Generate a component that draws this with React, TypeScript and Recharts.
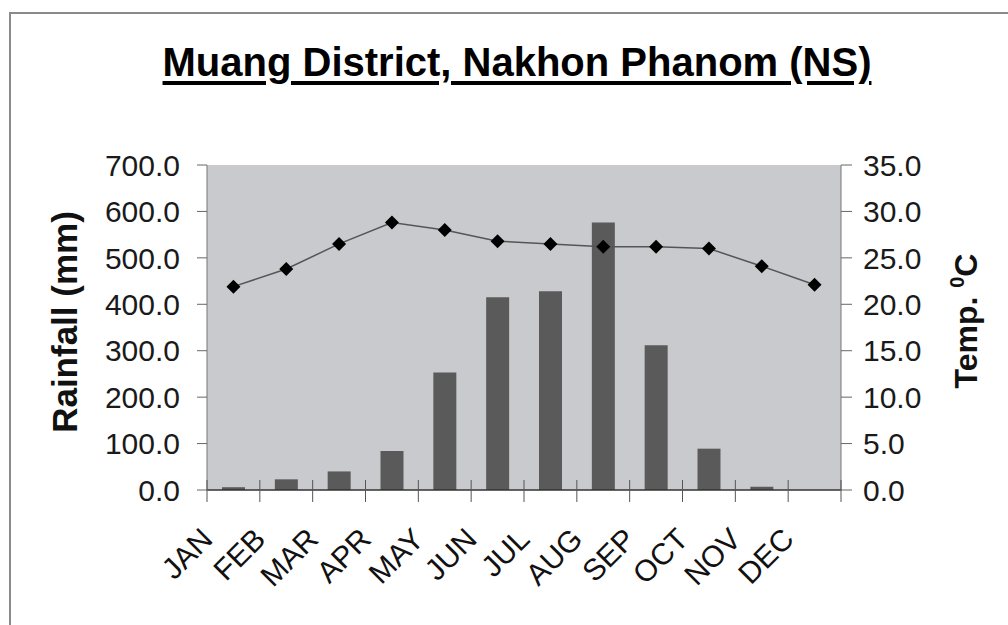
import React from 'react';
import { ComposedChart, Bar, Line, XAxis, YAxis, CartesianGrid } from 'recharts';

const months = ['JAN', 'FEB', 'MAR', 'APR', 'MAY', 'JUN', 'JUL', 'AUG', 'SEP', 'OCT', 'NOV', 'DEC'];
const rainfall = [6, 23, 40, 84, 253, 415, 428, 576, 312, 89, 7, 0];
const temperature = [21.9, 23.8, 26.5, 28.8, 28.0, 26.8, 26.5, 26.2, 26.2, 26.0, 24.1, 22.1];
const rainTicks = [0, 100, 200, 300, 400, 500, 600, 700];
const tempTicks = [0, 5, 10, 15, 20, 25, 30, 35];

const data = months.map((m, i) => ({ month: m, rain: rainfall[i], temp: temperature[i] }));

const FONT = '"Liberation Sans", Arial, Helvetica, sans-serif';
const tickStyle = { fill: '#1a1a1a', fontSize: 30, fontFamily: FONT };

// category label rotated like Excel, plus tick marks on the category boundaries
const MonthTick = ({ x, y, payload, width, visibleTicksCount, index }: any) => {
  const band = width && visibleTicksCount ? width / visibleTicksCount : 52.8;
  const left = x - band / 2;
  const right = x + band / 2;
  return (
    <g>
      <line x1={left} x2={left} y1={y - 10} y2={y + 12} stroke="#555" />
      {index === visibleTicksCount - 1 && <line x1={right} x2={right} y1={y - 10} y2={y + 12} stroke="#555" />}
      <g transform={`translate(${x - 19},${y + 51})`}>
        <text textAnchor="end" transform="rotate(-45)" fill="#111" fontSize={30} fontFamily={FONT}>
          {payload.value}
        </text>
      </g>
    </g>
  );
};

const Diamond = ({ cx, cy }: any) => {
  if (cx == null || cy == null) return null;
  const r = 7;
  return <polygon points={`${cx},${cy - r} ${cx + r},${cy} ${cx},${cy + r} ${cx - r},${cy}`} fill="#000" />;
};

export default function App() {
  return (
    <div style={{ position: 'absolute', left: 0, top: 0, width: 1008, height: 625, background: '#fff', overflow: 'hidden' }}>
      <div style={{ position: 'absolute', left: 9, top: 12, width: 1010, height: 640, borderTop: '2px solid #8a8a8a', borderLeft: '2px solid #8a8a8a' }} />
      <div
        style={{
          position: 'absolute', left: 0, top: 42, width: 1034, textAlign: 'center',
          fontFamily: FONT, fontWeight: 'bold', fontSize: 40, lineHeight: 1, color: '#000',
          textDecoration: 'underline', textDecorationThickness: '4px', textUnderlineOffset: '5px',
        }}
      >
        Muang District, Nakhon Phanom (NS)
      </div>
      <div style={{ position: 'absolute', left: 0, top: 0 }}>
        <ComposedChart width={1008} height={625} data={data} margin={{ top: 165, right: 0, left: 0, bottom: 0 }}>
          <CartesianGrid horizontal={false} vertical={false} fill="#c9cacd" stroke="none" />
          <XAxis
            dataKey="month"
            height={135}
            interval={0}
            tickLine={false}
            tickSize={0}
            tickMargin={0}
            tick={<MonthTick />}
            axisLine={{ stroke: '#333', strokeWidth: 1.5 }}
          />
          <YAxis
            yAxisId="rain"
            width={207}
            domain={[0, 700]}
            ticks={rainTicks}
            tickFormatter={(v: number) => v.toFixed(1)}
            tick={tickStyle}
            tickSize={10}
            tickMargin={17}
            tickLine={{ stroke: '#666' }}
            axisLine={{ stroke: '#777' }}
          />
          <YAxis
            yAxisId="temp"
            orientation="right"
            width={167}
            domain={[0, 35]}
            ticks={tempTicks}
            tickFormatter={(v: number) => v.toFixed(1)}
            tick={tickStyle}
            tickSize={11}
            tickMargin={11}
            tickLine={{ stroke: '#666' }}
            axisLine={{ stroke: '#777' }}
          />
          <Bar yAxisId="rain" dataKey="rain" barSize={23} fill="#5a5a5a" isAnimationActive={false} />
          <Line
            yAxisId="temp"
            dataKey="temp"
            type="linear"
            stroke="#555"
            strokeWidth={1.5}
            dot={<Diamond />}
            activeDot={false}
            isAnimationActive={false}
          />
        </ComposedChart>
      </div>
      <svg width={1008} height={625} style={{ position: 'absolute', left: 0, top: 0, pointerEvents: 'none' }}>
        <text
          transform="translate(77,322) rotate(-90)"
          textAnchor="middle"
          fontFamily={FONT}
          fontWeight="bold"
          fontSize={35}
          fill="#111"
        >
          Rainfall (mm)
        </text>
        <text
          transform="translate(977,321) rotate(-90)"
          textAnchor="middle"
          fontFamily={FONT}
          fontWeight="bold"
          fontSize={32}
          fill="#111"
        >
          Temp.{' '}
          <tspan dy={-13} fontSize={20}>0</tspan>
          <tspan dy={13}>C</tspan>
        </text>
      </svg>
    </div>
  );
}
